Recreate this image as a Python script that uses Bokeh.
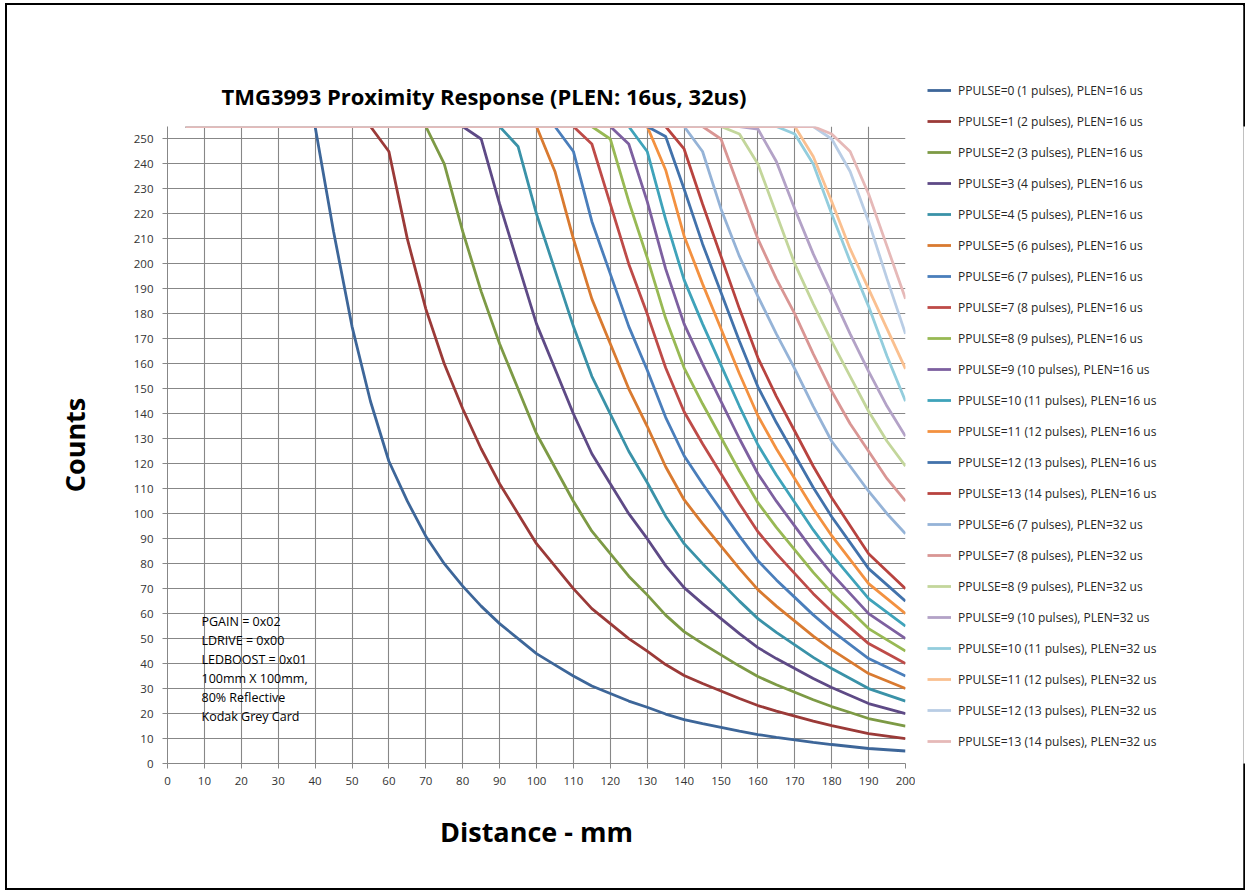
from bokeh.plotting import figure
from bokeh.layouts import row
from bokeh.models import Legend, LegendItem, Label, FixedTicker, Range1d
from bokeh.embed import file_html
from bokeh.resources import INLINE

distance_mm = [5, 10, 15, 20, 25, 30, 35, 40, 45, 50, 55, 60, 65, 70, 75, 80, 85, 90, 95, 100,
               105, 110, 115, 120, 125, 130, 135, 140, 145, 150, 155, 160, 165, 170, 175, 180, 185, 190, 195, 200]

ppulse0_16us = [255, 255, 255, 255, 255, 255, 255, 255, 213, 175, 145, 121, 105, 91, 80, 71, 63, 56, 50, 44,
                39.5, 35, 31, 28, 25, 22.5, 19.8, 17.6, 16, 14.5, 13, 11.6, 10.5, 9.5, 8.5, 7.6, 6.8, 6, 5.5, 5]
ppulse1_16us = [255, 255, 255, 255, 255, 255, 255, 255, 255, 255, 255, 245, 210, 182, 160, 142, 126, 112, 100, 88,
                79, 70, 62, 56, 50, 45, 39.6, 35.2, 32, 29, 26, 23.2, 21, 19, 17, 15.2, 13.6, 12, 11, 10]
ppulse2_16us = [255, 255, 255, 255, 255, 255, 255, 255, 255, 255, 255, 255, 255, 255, 240, 213, 189, 168, 150, 132,
                118.5, 105, 93, 84, 75, 67.5, 59.4, 52.8, 48, 43.5, 39, 34.8, 31.5, 28.5, 25.5, 22.8, 20.4, 18, 16.5, 15]
ppulse3_16us = [255, 255, 255, 255, 255, 255, 255, 255, 255, 255, 255, 255, 255, 255, 255, 255, 250, 224, 200, 176,
                158, 140, 124, 112, 100, 90, 79.2, 70.4, 64, 58, 52, 46.4, 42, 38, 34, 30.4, 27.2, 24, 22, 20]
ppulse4_16us = [255, 255, 255, 255, 255, 255, 255, 255, 255, 255, 255, 255, 255, 255, 255, 255, 255, 255, 247, 220,
                197.5, 175, 155, 140, 125, 112.5, 99, 88, 80, 72.5, 65, 58, 52.5, 47.5, 42.5, 38, 34, 30, 27.5, 25]
ppulse5_16us = [255, 255, 255, 255, 255, 255, 255, 255, 255, 255, 255, 255, 255, 255, 255, 255, 255, 255, 255, 255,
                237, 210, 186, 168, 150, 135, 118.8, 105.6, 96, 87, 78, 69.6, 63, 57, 51, 45.6, 40.8, 36, 33, 30]
ppulse6_16us = [255, 255, 255, 255, 255, 255, 255, 255, 255, 255, 255, 255, 255, 255, 255, 255, 255, 255, 255, 255,
                255, 245, 217, 196, 175, 157.5, 138.6, 123.2, 112, 101.5, 91, 81.2, 73.5, 66.5, 59.5, 53.2, 47.6, 42, 38.5, 35]
ppulse7_16us = [255, 255, 255, 255, 255, 255, 255, 255, 255, 255, 255, 255, 255, 255, 255, 255, 255, 255, 255, 255,
                255, 255, 248, 224, 200, 180, 158.4, 140.8, 128, 116, 104, 92.8, 84, 76, 68, 60.8, 54.4, 48, 44, 40]
ppulse8_16us = [255, 255, 255, 255, 255, 255, 255, 255, 255, 255, 255, 255, 255, 255, 255, 255, 255, 255, 255, 255,
                255, 255, 255, 250, 225, 202.5, 178.2, 158.4, 144, 130.5, 117, 104.4, 94.5, 85.5, 76.5, 68.4, 61.2, 54, 49.5, 45]
ppulse9_16us = [255, 255, 255, 255, 255, 255, 255, 255, 255, 255, 255, 255, 255, 255, 255, 255, 255, 255, 255, 255,
                255, 255, 255, 255, 248, 225, 198, 176, 160, 145, 130, 116, 105, 95, 85, 76, 68, 60, 55, 50]
ppulse10_16us = [255, 255, 255, 255, 255, 255, 255, 255, 255, 255, 255, 255, 255, 255, 255, 255, 255, 255, 255, 255,
                 255, 255, 255, 255, 255, 245, 217.8, 193.6, 176, 159.5, 143, 127.6, 115.5, 104.5, 93.5, 83.6, 74.8, 66, 60.5, 55]
ppulse11_16us = [255, 255, 255, 255, 255, 255, 255, 255, 255, 255, 255, 255, 255, 255, 255, 255, 255, 255, 255, 255,
                 255, 255, 255, 255, 255, 255, 237.6, 211.2, 192, 174, 156, 139.2, 126, 114, 102, 91.2, 81.6, 72, 66, 60]
ppulse12_16us = [255, 255, 255, 255, 255, 255, 255, 255, 255, 255, 255, 255, 255, 255, 255, 255, 255, 255, 255, 255,
                 255, 255, 255, 255, 255, 255, 251, 230, 208, 188.5, 169, 150.8, 136.5, 123.5, 110.5, 98.8, 88.4, 78, 71.5, 65]
ppulse13_16us = [255, 255, 255, 255, 255, 255, 255, 255, 255, 255, 255, 255, 255, 255, 255, 255, 255, 255, 255, 255,
                 255, 255, 255, 255, 255, 255, 255, 246, 224, 203, 182, 162.4, 147, 133, 119, 106.4, 95.2, 84, 77, 70]
ppulse6_32us = [255, 255, 255, 255, 255, 255, 255, 255, 255, 255, 255, 255, 255, 255, 255, 255, 255, 255, 255, 255,
                255, 255, 255, 255, 255, 255, 255, 255, 245, 222, 203, 187, 172, 158, 143, 129, 119, 109, 100, 92]
ppulse7_32us = [255, 255, 255, 255, 255, 255, 255, 255, 255, 255, 255, 255, 255, 255, 255, 255, 255, 255, 255, 255,
                255, 255, 255, 255, 255, 255, 255, 255, 255, 250, 230, 210, 194, 180, 164, 149, 136, 125, 114, 105]
ppulse8_32us = [255, 255, 255, 255, 255, 255, 255, 255, 255, 255, 255, 255, 255, 255, 255, 255, 255, 255, 255, 255,
                255, 255, 255, 255, 255, 255, 255, 255, 255, 255, 252, 240, 220, 200, 184, 169, 155, 141, 129, 119]
ppulse9_32us = [255, 255, 255, 255, 255, 255, 255, 255, 255, 255, 255, 255, 255, 255, 255, 255, 255, 255, 255, 255,
                255, 255, 255, 255, 255, 255, 255, 255, 255, 255, 255, 254, 241, 222, 204, 188, 172, 157, 143, 131]
ppulse10_32us = [255, 255, 255, 255, 255, 255, 255, 255, 255, 255, 255, 255, 255, 255, 255, 255, 255, 255, 255, 255,
                 255, 255, 255, 255, 255, 255, 255, 255, 255, 255, 255, 255, 255, 252, 240, 220, 201, 183, 163, 145]
ppulse11_32us = [255, 255, 255, 255, 255, 255, 255, 255, 255, 255, 255, 255, 255, 255, 255, 255, 255, 255, 255, 255,
                 255, 255, 255, 255, 255, 255, 255, 255, 255, 255, 255, 255, 255, 255, 243, 225, 206, 190, 174, 158]
ppulse12_32us = [255, 255, 255, 255, 255, 255, 255, 255, 255, 255, 255, 255, 255, 255, 255, 255, 255, 255, 255, 255,
                 255, 255, 255, 255, 255, 255, 255, 255, 255, 255, 255, 255, 255, 255, 255, 250, 237, 217, 194, 172]
ppulse13_32us = [255, 255, 255, 255, 255, 255, 255, 255, 255, 255, 255, 255, 255, 255, 255, 255, 255, 255, 255, 255,
                 255, 255, 255, 255, 255, 255, 255, 255, 255, 255, 255, 255, 255, 255, 255, 252, 245, 228, 207, 186]

series_labels = [
    "PPULSE=0 (1 pulses), PLEN=16 us", "PPULSE=1 (2 pulses), PLEN=16 us",
    "PPULSE=2 (3 pulses), PLEN=16 us", "PPULSE=3 (4 pulses), PLEN=16 us",
    "PPULSE=4 (5 pulses), PLEN=16 us", "PPULSE=5 (6 pulses), PLEN=16 us",
    "PPULSE=6 (7 pulses), PLEN=16 us", "PPULSE=7 (8 pulses), PLEN=16 us",
    "PPULSE=8 (9 pulses), PLEN=16 us", "PPULSE=9 (10 pulses), PLEN=16 us",
    "PPULSE=10 (11 pulses), PLEN=16 us", "PPULSE=11 (12 pulses), PLEN=16 us",
    "PPULSE=12 (13 pulses), PLEN=16 us", "PPULSE=13 (14 pulses), PLEN=16 us",
    "PPULSE=6 (7 pulses), PLEN=32 us", "PPULSE=7 (8 pulses), PLEN=32 us",
    "PPULSE=8 (9 pulses), PLEN=32 us", "PPULSE=9 (10 pulses), PLEN=32 us",
    "PPULSE=10 (11 pulses), PLEN=32 us", "PPULSE=11 (12 pulses), PLEN=32 us",
    "PPULSE=12 (13 pulses), PLEN=32 us", "PPULSE=13 (14 pulses), PLEN=32 us",
]
series_values = [ppulse0_16us, ppulse1_16us, ppulse2_16us, ppulse3_16us, ppulse4_16us,
                 ppulse5_16us, ppulse6_16us, ppulse7_16us, ppulse8_16us, ppulse9_16us,
                 ppulse10_16us, ppulse11_16us, ppulse12_16us, ppulse13_16us,
                 ppulse6_32us, ppulse7_32us, ppulse8_32us, ppulse9_32us,
                 ppulse10_32us, ppulse11_32us, ppulse12_32us, ppulse13_32us]
series_colors = ["#3D6699", "#9B3A38", "#7D9A45", "#5E4A86", "#3A92A8", "#D97A30",
                 "#4A7EBB", "#BE4B48", "#98B954", "#7D60A0", "#3FA3BA", "#F39140",
                 "#4272AB", "#B8433F",
                 "#95B3D7", "#D99694", "#C3D69B", "#B3A2C7", "#93CDDD", "#FAC090",
                 "#B9CDE5", "#E6B9B8"]

x_ticks = list(range(0, 201, 10))
y_ticks = list(range(0, 251, 10))

FONT = "Open Sans"
LW = 2.8
H = 883
W_MAIN, W_LEG = 908, 328
FL, FT, FR, FB = 160, 121, 10, 125  # frame borders inside the main canvas

p = figure(width=W_MAIN, height=H, output_backend="svg", toolbar_location=None,
           x_range=Range1d(0, 200), y_range=Range1d(0, 255),
           min_border_left=FL, min_border_top=FT, min_border_right=FR, min_border_bottom=FB,
           background_fill_color="white", border_fill_color="white")
p.outline_line_color = None

p.title.text = "TMG3993 Proximity Response (PLEN: 16us, 32us)"
p.title.text_font = FONT
p.title.text_font_size = "22px"
p.title.text_font_style = "bold"
p.title.text_color = "black"
p.title.align = "left"
p.title.offset = 54
p.title.standoff = 31

for g, t in ((p.xgrid, x_ticks), (p.ygrid, y_ticks)):
    g.ticker = FixedTicker(ticks=t)
    g.grid_line_color = "#878787"
    g.grid_line_width = 1.1

for ax, t in ((p.xaxis, x_ticks), (p.yaxis, y_ticks)):
    ax.ticker = FixedTicker(ticks=t)
    ax.axis_line_color = "#878787"
    ax.major_tick_line_color = "#878787"
    ax.major_tick_out = 5
    ax.major_tick_in = 0
    ax.minor_tick_line_color = None
    ax.major_label_text_font = FONT
    ax.major_label_text_font_size = "11.5px"
    ax.major_label_text_color = "#333333"
    ax.axis_label_text_font = FONT
    ax.axis_label_text_font_size = "27px"
    ax.axis_label_text_font_style = "bold"
    ax.axis_label_text_color = "black"
p.yaxis.major_label_standoff = 9
p.xaxis.major_label_standoff = 8
p.yaxis.axis_label = "Counts"
p.yaxis.axis_label_standoff = 38
p.xaxis.axis_label = "Distance - mm"
p.xaxis.axis_label_standoff = 25

for vals, col in zip(series_values, series_colors):
    p.line(distance_mm, vals, line_color=col, line_width=LW)

notes = ["PGAIN = 0x02", "LDRIVE = 0x00", "LEDBOOST = 0x01", "100mm X 100mm,",
         "80% Reflective", "Kodak Grey Card"]
for i, t in enumerate(notes):
    p.add_layout(Label(x=201 - 167, y=763 - (621 + 19 * i), x_units="screen", y_units="screen",
                       text=t, text_font=FONT, text_font_size="12.5px", text_color="black",
                       text_align="left", text_baseline="middle"))

# legend panel: a second figure that only carries the legend (in a side panel, so it is not clipped)
lp = figure(width=W_LEG, height=H, output_backend="svg", toolbar_location=None,
            x_range=Range1d(0, 200), y_range=Range1d(0, 255),
            x_axis_type=None, y_axis_type=None,
            min_border_left=0, min_border_right=0, min_border_top=0, min_border_bottom=0,
            background_fill_color="white", border_fill_color="white")
lp.outline_line_color = None
lp.xgrid.visible = False
lp.ygrid.visible = False
swatches = [lp.line(distance_mm, vals, line_color=col, line_width=LW, visible=False)
            for vals, col in zip(series_values, series_colors)]
items = [LegendItem(label=lab, renderers=[r]) for lab, r in zip(series_labels, swatches)]
legend = Legend(items=items, location=(12, 12), orientation="vertical",
                glyph_width=24, glyph_height=20, label_height=20, spacing=11,
                label_standoff=7, padding=0, margin=0,
                border_line_color=None, background_fill_alpha=0,
                label_text_font=FONT, label_text_font_size="12px",
                label_text_color="#262626")
lp.add_layout(legend, "left")

layout = row(p, lp, spacing=0,
             styles={"border": "2px solid black", "margin-left": "5px", "margin-top": "3px"})

open("out.html", "w").write(file_html(layout, INLINE))
